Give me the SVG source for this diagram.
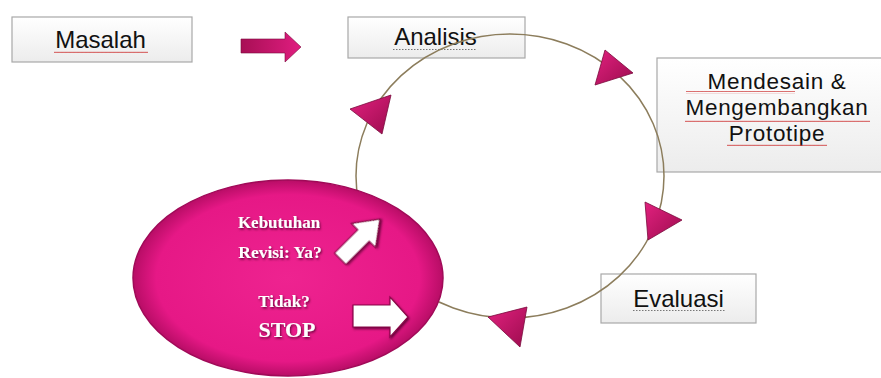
<svg xmlns="http://www.w3.org/2000/svg" width="881" height="378" viewBox="0 0 881 378">
<defs>
<linearGradient id="boxg" x1="0" y1="0" x2="0" y2="1"><stop offset="0" stop-color="#ffffff"/><stop offset="1" stop-color="#ececec"/></linearGradient>
<linearGradient id="trig" x1="0" y1="0" x2="1" y2="1"><stop offset="0" stop-color="#e2217f"/><stop offset="1" stop-color="#9c0c4e"/></linearGradient>
<linearGradient id="arrg" x1="0" y1="0" x2="1" y2="0"><stop offset="0" stop-color="#a80f55"/><stop offset="1" stop-color="#e01d80"/></linearGradient>
<radialGradient id="ellg" cx="0.5" cy="0.5" r="0.5"><stop offset="0" stop-color="#ee2390"/><stop offset="0.85" stop-color="#e61886"/><stop offset="1" stop-color="#b80d66"/></radialGradient>
<filter id="sh" x="-10%" y="-20%" width="130%" height="150%"><feDropShadow dx="1" dy="1.5" stdDeviation="0.8" flood-color="#5a0030" flood-opacity="0.9"/></filter>
<pattern id="wave" width="4" height="3" patternUnits="userSpaceOnUse"><path d="M0 2 L1 0.8 L2 2 L3 0.8 L4 2" fill="none" stroke="#d04040" stroke-width="0.8"/></pattern>
<pattern id="dots" width="3" height="3" patternUnits="userSpaceOnUse"><rect x="0" y="1" width="1.5" height="1" fill="#777"/></pattern>
</defs>
<style>
.box{fill:url(#boxg);stroke:#a8a8a8;stroke-width:1.2}
.lbl{font-family:"Liberation Sans",Arial,sans-serif;font-size:24px;fill:#111;text-anchor:middle}
.ml{font-size:22.5px;letter-spacing:0.7px}
.wl{font-family:"Liberation Serif","Times New Roman",serif;font-weight:bold;fill:#fff;text-anchor:middle;filter:url(#sh)}
.tri{fill:url(#trig);stroke:#7a0a3c;stroke-width:0.8}
.warr{fill:#fff;stroke:#8a0a48;stroke-width:1.2;filter:url(#sh)}
</style>
<rect width="881" height="378" fill="#fff"/>
<g id="masalah">
<rect class="box" x="12" y="17" width="180" height="45"/>
<text class="lbl" x="100.5" y="48">Masalah</text>
<rect x="54" y="50" width="94" height="3" fill="url(#wave)"/>
</g>
<g id="analisis">
<rect class="box" x="348" y="17" width="177" height="41"/>
<text class="lbl" x="435.5" y="45">Analisis</text>
<rect x="393" y="47" width="84" height="3" fill="url(#dots)"/>
</g>
<g id="mendesain">
<rect class="box" x="657" y="58" width="226" height="114"/>
<text class="lbl ml" x="777" y="89">Mendesain &amp;</text>
<text class="lbl ml" x="777" y="115">Mengembangkan</text>
<text class="lbl ml" x="777" y="141">Prototipe</text>
<rect x="686" y="91" width="109" height="3" fill="url(#wave)"/>
<rect x="685" y="119" width="185" height="3" fill="url(#wave)"/>
<rect x="727" y="143" width="100" height="3" fill="url(#wave)"/>
</g>
<g id="evaluasi">
<rect class="box" x="601" y="274" width="155" height="49"/>
<text class="lbl" x="678.5" y="307">Evaluasi</text>
<rect x="632" y="309" width="93" height="3" fill="url(#dots)"/>
</g>
<g id="connectors">
<ellipse cx="510" cy="176" rx="154" ry="142" fill="none" stroke="#8c7d5c" stroke-width="1.5"/>
<polygon points="241,39 285,39 285,32 301,47 285,62 285,53 241,53" fill="url(#arrg)" stroke="#7a0a3c" stroke-width="0.6"/>
<polygon class="tri" points="605,50 633,73 595,85"/>
<polygon class="tri" points="645,202 682,220 648,240"/>
<polygon class="tri" points="527,307 488,317 520,347"/>
<polygon class="tri" points="391,95 350,109 382,134"/>
</g>
<g id="keputusan">
<ellipse cx="288" cy="278" rx="155" ry="98" fill="url(#ellg)" stroke="#a00a58" stroke-width="1.5"/>
<text class="wl" x="279" y="228" font-size="17">Kebutuhan</text>
<text class="wl" x="280" y="258" font-size="17.5">Revisi: Ya?</text>
<text class="wl" x="284" y="307" font-size="17">Tidak?</text>
<text class="wl" x="287" y="337" font-size="22">STOP</text>
<polygon class="warr" transform="translate(360,239) rotate(-45)" points="-28,-8 5,-8 5,-17 28,0 5,17 5,8 -28,8"/>
<polygon class="warr" points="353,305 390,305 390,297 408,317 390,337 390,327 353,327"/>
</g>
</svg>
